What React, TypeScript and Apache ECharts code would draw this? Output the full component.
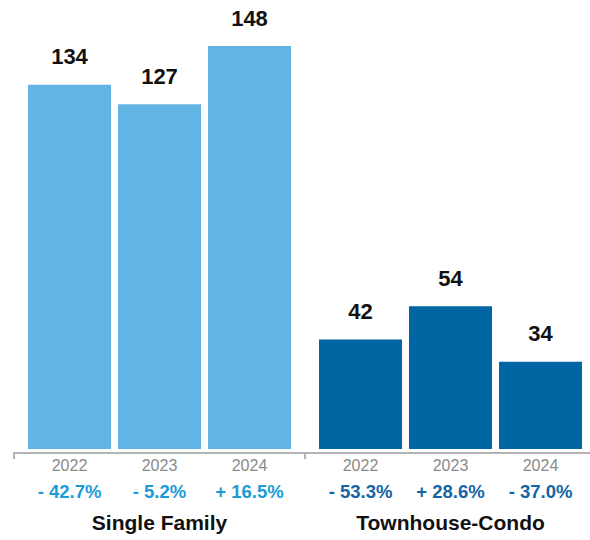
import React, { useEffect, useRef } from "react";
import * as echarts from "echarts";

const years = ["2022", "2023", "2024"];
const groupNames = ["Single Family", "Townhouse-Condo"];
const singleFamily = [134, 127, 148];
const townhouseCondo = [42, 54, 34];
const singleFamilyChange = ["- 42.7%", "- 5.2%", "+ 16.5%"];
const townhouseCondoChange = ["- 53.3%", "+ 28.6%", "- 37.0%"];

const FONT = "'Liberation Sans', Arial, Helvetica, sans-serif";
const SF_BAR = "#62B4E4";
const TC_BAR = "#0065A3";
const SF_PCT = "#1B9CD8";
const TC_PCT = "#1565A6";

export default function App() {
  const ref = useRef<HTMLDivElement>(null);
  useEffect(() => {
    if (!ref.current) return;
    const chart = echarts.init(ref.current, null, { renderer: "svg" });
    const groups = [
      { name: groupNames[0], data: singleFamily, change: singleFamilyChange, bar: SF_BAR, pct: SF_PCT, left: 24.5 },
      { name: groupNames[1], data: townhouseCondo, change: townhouseCondoChange, bar: TC_BAR, pct: TC_PCT, left: 315.5 },
    ];
    chart.setOption({
      animation: false,
      textStyle: { fontFamily: FONT },
      grid: groups.map((g) => ({ left: g.left, width: 270, top: 46, height: 403 })),
      xAxis: groups.map((g, i) => ({
        type: "category",
        gridIndex: i,
        data: years,
        axisLine: { show: false },
        axisTick: { show: false },
        axisLabel: {
          margin: 3,
          formatter: (v: string, idx: number) => `{y|${v}}\n{p|${g.change[idx]}}`,
          rich: {
            y: { fontSize: 16, color: "#8a8a8a", lineHeight: 26, fontFamily: FONT },
            p: { fontSize: 18.5, fontWeight: "bold", color: g.pct, lineHeight: 26, fontFamily: FONT },
          },
        },
        name: g.name,
        nameLocation: "middle",
        nameGap: 63,
        nameTextStyle: { fontSize: 21, fontWeight: "bold", color: "#111", fontFamily: FONT },
      })),
      yAxis: groups.map((g, i) => ({
        type: "value",
        gridIndex: i,
        min: 2.5,
        max: 148,
        show: false,
        splitLine: { show: false },
      })),
      series: groups.map((g, i) => ({
        type: "bar",
        xAxisIndex: i,
        yAxisIndex: i,
        data: g.data,
        barWidth: 83,
        itemStyle: { color: g.bar },
        label: {
          show: true,
          position: "top",
          distance: 17,
          fontSize: 22,
          fontWeight: "bold",
          color: "#111",
          fontFamily: FONT,
        },
      })),
      graphic: [
        {
          type: "polyline",
          shape: { points: [[14, 459], [14, 453], [590, 453]] },
          style: { stroke: "#b4b4b4", lineWidth: 2, fill: null },
        },
        {
          type: "line",
          shape: { x1: 305, y1: 453, x2: 305, y2: 459 },
          style: { stroke: "#b4b4b4", lineWidth: 2 },
        },
      ],
    });
    return () => chart.dispose();
  }, []);
  return (
    <div
      ref={ref}
      style={{ position: "fixed", left: 0, top: 0, width: 590, height: 540, background: "#fff" }}
    />
  );
}
